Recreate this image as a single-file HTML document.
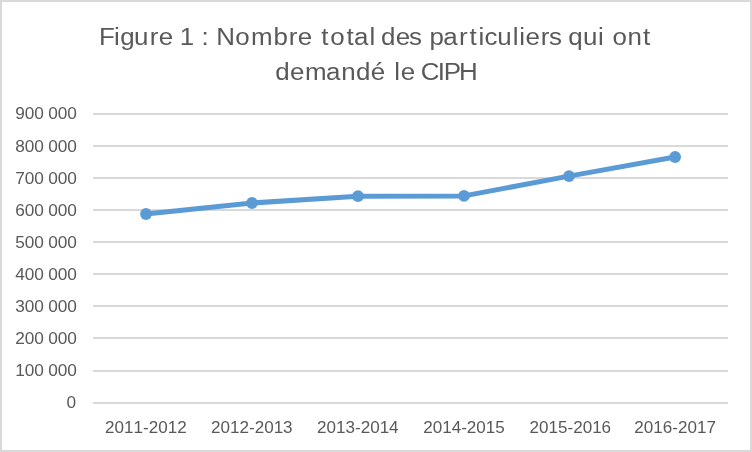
<!DOCTYPE html>
<html lang="fr"><head><meta charset="utf-8"><title>Figure 1</title>
<style>
html,body{margin:0;padding:0;background:#fff;overflow:hidden;}
svg{display:block;}
text{font-family:"Liberation Sans",sans-serif;fill:#595959;font-kerning:none;}
.t{font-size:24.7px;}
.a{font-size:16.5px;word-spacing:-0.5px;}
</style></head><body>
<svg width="752" height="452" viewBox="0 0 752 452">
<rect x="0" y="0" width="752" height="452" fill="#fff"/>
<rect x="1" y="1" width="750" height="450" fill="none" stroke="#d9d9d9" stroke-width="2"/>
<rect x="93" y="113" width="635" height="2" fill="#d9d9d9"/>
<rect x="93" y="145" width="635" height="2" fill="#d9d9d9"/>
<rect x="93" y="177" width="635" height="2" fill="#d9d9d9"/>
<rect x="93" y="209" width="635" height="2" fill="#d9d9d9"/>
<rect x="93" y="241" width="635" height="2" fill="#d9d9d9"/>
<rect x="93" y="273" width="635" height="2" fill="#d9d9d9"/>
<rect x="93" y="305" width="635" height="2" fill="#d9d9d9"/>
<rect x="93" y="337" width="635" height="2" fill="#d9d9d9"/>
<rect x="93" y="370" width="635" height="2" fill="#d9d9d9"/>
<rect x="93" y="402" width="635" height="2" fill="#d9d9d9"/>
<polyline points="146.0,214.0 252.0,203.0 358.0,196.2 464.0,195.9 569.0,176.1 675.1,157.0" fill="none" stroke="#5b9bd5" stroke-width="5.0" stroke-linejoin="round" stroke-linecap="round"/>
<circle cx="146.0" cy="214.0" r="5.9" fill="#5b9bd5"/>
<circle cx="252.0" cy="203.0" r="5.9" fill="#5b9bd5"/>
<circle cx="358.0" cy="196.2" r="5.9" fill="#5b9bd5"/>
<circle cx="464.0" cy="195.9" r="5.9" fill="#5b9bd5"/>
<circle cx="569.0" cy="176.1" r="5.9" fill="#5b9bd5"/>
<circle cx="675.1" cy="157.0" r="5.9" fill="#5b9bd5"/>
<text class="t" transform="scale(1.05,1)" y="45.0" x="94.30 108.56 114.57 127.71 142.58 151.16 164.89 171.29 185.02 191.99 198.85 206.00 224.13 238.96 260.57 275.06 283.58 297.31 306.06 314.56 330.12 337.14 352.00 357.50 362.98 376.89 389.56 401.90 409.15 422.12 437.08 447.15 455.69 461.37 473.62 488.25 494.59 500.59 514.98 522.76 535.11 541.29 555.26 569.46 574.96 583.23 597.66 612.43">Figure 1 : Nombre total des particuliers qui ont</text>
<text class="t" transform="scale(1.05,1)" y="80.5" x="262.10 276.20 290.50 310.44 324.95 339.01 353.13 366.86 375.57 381.59 395.33 400.78 416.84 422.68 437.11">demandé le CIPH</text>
<text class="a" transform="translate(76.9,119) scale(1.045,1)" text-anchor="end">900 000</text>
<text class="a" transform="translate(76.9,152) scale(1.045,1)" text-anchor="end">800 000</text>
<text class="a" transform="translate(76.9,184) scale(1.045,1)" text-anchor="end">700 000</text>
<text class="a" transform="translate(76.9,216) scale(1.045,1)" text-anchor="end">600 000</text>
<text class="a" transform="translate(76.9,248) scale(1.045,1)" text-anchor="end">500 000</text>
<text class="a" transform="translate(76.9,280) scale(1.045,1)" text-anchor="end">400 000</text>
<text class="a" transform="translate(76.9,312) scale(1.045,1)" text-anchor="end">300 000</text>
<text class="a" transform="translate(76.9,344) scale(1.045,1)" text-anchor="end">200 000</text>
<text class="a" transform="translate(76.9,376) scale(1.045,1)" text-anchor="end">100 000</text>
<text class="a" transform="translate(76.0,408) scale(1.045,1)" text-anchor="end">0</text>
<text class="a" transform="translate(145.9,433.0) scale(1.035,1)" text-anchor="middle">2011-2012</text>
<text class="a" transform="translate(251.8,433.0) scale(1.035,1)" text-anchor="middle">2012-2013</text>
<text class="a" transform="translate(357.8,433.0) scale(1.035,1)" text-anchor="middle">2013-2014</text>
<text class="a" transform="translate(464.0,433.0) scale(1.035,1)" text-anchor="middle">2014-2015</text>
<text class="a" transform="translate(570.3,433.0) scale(1.035,1)" text-anchor="middle">2015-2016</text>
<text class="a" transform="translate(675.1,433.0) scale(1.035,1)" text-anchor="middle">2016-2017</text>
</svg>
</body></html>
